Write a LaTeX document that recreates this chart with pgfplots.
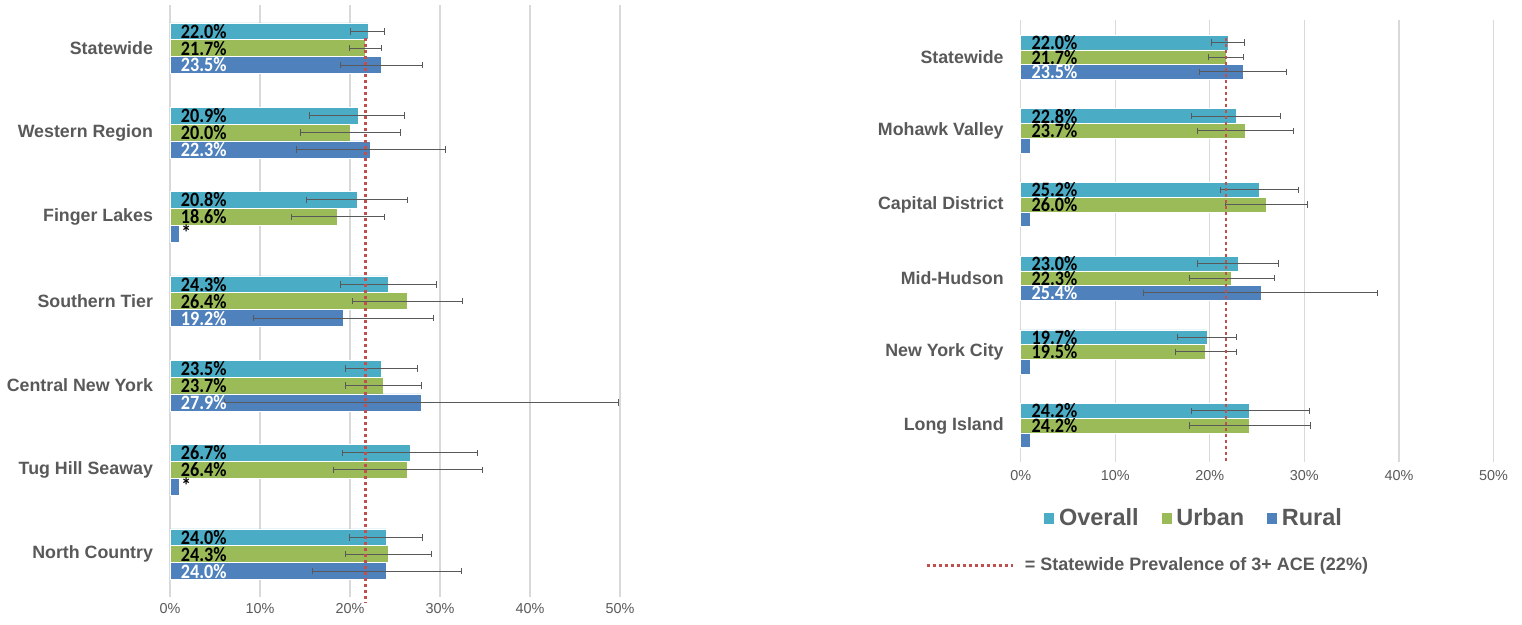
\documentclass[border=0pt]{standalone}
\usepackage{pgfplots}
\pgfplotsset{compat=1.18}
\usepackage{fontspec}
\setmainfont{Liberation Sans}
\newfontfamily\lblfont[FakeStretch=0.89]{Carlito}

\definecolor{ovc}{HTML}{4BACC6}
\definecolor{urc}{HTML}{9BBB59}
\definecolor{ruc}{HTML}{4F81BD}
\definecolor{txtc}{HTML}{595959}
\definecolor{gridc}{HTML}{D9D9D9}
\definecolor{errc}{HTML}{595959}
\definecolor{redc}{HTML}{C0504D}

\tikzset{redline/.style={redc, line width=1.4pt, dash pattern=on 1.5pt off 1.5pt}}
\pgfplotsset{
  acechart/.style={
    scale only axis, y dir=reverse, clip=false,
    xmin=0, xmax=50, xtick={0,10,...,50},
    /pgf/number format/assume math mode=true,
    xticklabel={\pgfmathprintnumber{\tick}\%},
    axis line style={draw=none}, major tick length=0pt,
    xmajorgrids, grid style={draw=gridc, line width=0.6pt},
    xticklabel style={font=\fontsize{7.2}{8}\selectfont, text=txtc},
    yticklabel style={font=\bfseries\fontsize{8.9}{10}\selectfont, text=txtc, xshift=-5pt},
  },
  bars/.style={xbar, bar width=0.2, bar shift=0pt, draw=white, line width=0.3pt, fill=#1},
  errs/.style={error bars/.cd, x dir=both, x explicit, error mark=|,
    error bar style={line width=0.5pt, errc},
    error mark options={line width=0.5pt, errc, mark size=1.6pt}, /pgfplots/.cd},
  vals/.style 2 args={visualization depends on={rawx \as \rawx}, point meta=x,
    nodes near coords={\pgfmathprintnumber[fixed,fixed zerofill,precision=1]{\pgfplotspointmeta}\%},
    every node near coord/.append style={anchor=west, inner sep=0pt, text=#1,
      font=\lblfont\bfseries\fontsize{10.2}{10}\selectfont, xshift={5.3pt-\rawx*#2}}},
}

\begin{document}
\begin{tikzpicture}
\path[use as bounding box] (0,0) rectangle (761pt,312.5pt);

% ---- left chart
\begin{axis}[acechart, at={(85pt,14.15pt)}, anchor=south west,
  width=225pt, height=295.85pt, ymin=-0.512, ymax=6.504,
  ytick={0,...,6},
  yticklabels={Statewide, Western Region, Finger Lakes, Southern Tier, Central New York, Tug Hill Seaway, North Country}]
\addplot[bars=ovc, vals={black}{4.5pt}, errs] coordinates {
  (22.0,-0.2) += (1.8,0) -= (1.9,0)
  (20.9,0.8) += (5.2,0) -= (5.4,0)
  (20.8,1.8) += (5.6,0) -= (5.6,0)
  (24.3,2.8) += (5.3,0) -= (5.3,0)
  (23.5,3.8) += (4.0,0) -= (4.0,0)
  (26.7,4.8) += (7.5,0) -= (7.5,0)
  (24.0,5.8) += (4.0,0) -= (4.0,0)};
\addplot[bars=urc, vals={black}{4.5pt}, errs] coordinates {
  (21.7,0) += (1.8,0) -= (1.8,0)
  (20.0,1) += (5.6,0) -= (5.5,0)
  (18.6,2) += (5.2,0) -= (5.1,0)
  (26.4,3) += (6.1,0) -= (6.1,0)
  (23.7,4) += (4.2,0) -= (4.2,0)
  (26.4,5) += (8.3,0) -= (8.2,0)
  (24.3,6) += (4.7,0) -= (4.8,0)};
\addplot[bars=ruc, vals={white}{4.5pt}, errs] coordinates {
  (23.5,0.2) += (4.6,0) -= (4.6,0)
  (22.3,1.2) += (8.3,0) -= (8.2,0)
  (19.2,3.2) += (10.1,0) -= (9.9,0)
  (27.9,4.2) += (21.9,0) -= (21.8,0)
  (24.0,6.2) += (8.4,0) -= (8.2,0)};
% suppressed rural estimates
\addplot[bars=ruc, nodes near coords={*},
  every node near coord/.append style={anchor=west, inner sep=0pt, xshift=1pt, yshift=0.6pt,
    font=\lblfont\bfseries\fontsize{11}{10}\selectfont}] coordinates {(1.0,2.2) (1.0,5.2)};
\addplot[redline] coordinates {(21.7,-0.12) (21.7,6.58)};
\end{axis}

% ---- right chart
\begin{axis}[acechart, at={(510.35pt,81.65pt)}, anchor=south west,
  width=236.4pt, height=220.85pt, ymin=-0.505, ymax=5.49,
  ytick={0,...,5},
  yticklabels={Statewide, Mohawk Valley, Capital District, Mid-Hudson, New York City, Long Island},
  xticklabel style={yshift=-1pt},
  legend style={at={(0.368,-0.1275)}, anchor=center, draw=none, fill=none,
    legend columns=3, font=\bfseries\fontsize{11.75}{13}\selectfont, text=txtc,
    /tikz/every even column/.append style={column sep=9pt}},
  legend image code/.code={\fill[#1] (0pt,-3pt) rectangle (5.5pt,3pt);}]
\addplot[bars=ovc, vals={black}{4.728pt}, errs] coordinates {
  (22.0,-0.2) += (1.7,0) -= (1.8,0)
  (22.8,0.8) += (4.7,0) -= (4.7,0)
  (25.2,1.8) += (4.2,0) -= (4.1,0)
  (23.0,2.8) += (4.3,0) -= (4.3,0)
  (19.7,3.8) += (3.1,0) -= (3.1,0)
  (24.2,4.8) += (6.3,0) -= (6.1,0)};
\addlegendentry{Overall}
\addplot[bars=urc, vals={black}{4.728pt}, errs] coordinates {
  (21.7,0) += (1.9,0) -= (1.8,0)
  (23.7,1) += (5.1,0) -= (5.0,0)
  (26.0,2) += (4.3,0) -= (4.3,0)
  (22.3,3) += (4.5,0) -= (4.4,0)
  (19.5,4) += (3.3,0) -= (3.1,0)
  (24.2,5) += (6.4,0) -= (6.4,0)};
\addlegendentry{Urban}
\addplot[bars=ruc, vals={white}{4.728pt}, errs] coordinates {
  (23.5,0.2) += (4.6,0) -= (4.6,0)
  (25.4,3.2) += (12.3,0) -= (12.4,0)};
\addlegendentry{Rural}
\addplot[bars=ruc, forget plot] coordinates {(1.0,1.2) (1.0,2.2) (1.0,4.2) (1.0,5.2)};
\addplot[redline, forget plot] coordinates {(21.7,-0.265) (21.7,5.49)};
\draw[redline] (axis description cs:-0.199,-0.2355) -- (axis description cs:-0.0163,-0.2355);
\node[anchor=west, inner sep=0pt, text=txtc, font=\bfseries\fontsize{9}{10}\selectfont]
  at (axis description cs:0.008,-0.2355) {= Statewide Prevalence of 3+ ACE (22\%)};
\end{axis}
\end{tikzpicture}
\end{document}
